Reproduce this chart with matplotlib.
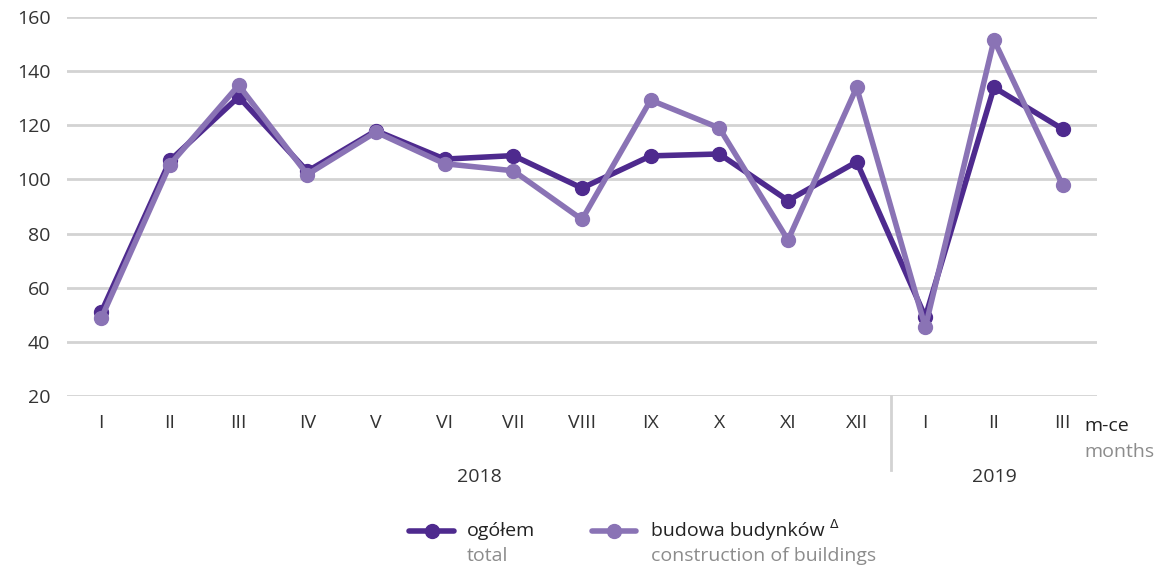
import matplotlib
matplotlib.use("Agg")
import matplotlib.pyplot as plt

months = ["I", "II", "III", "IV", "V", "VI", "VII", "VIII", "IX", "X", "XI", "XII", "I", "II", "III"]
years = ["2018", "2019"]
total = [51.0, 107.0, 130.5, 103.0, 118.0, 107.5, 108.8, 96.8, 108.7, 109.4, 92.2, 106.5, 49.2, 134.0, 118.6]
buildings = [48.8, 105.5, 134.8, 101.8, 117.5, 105.8, 103.2, 85.2, 129.3, 119.0, 77.6, 134.0, 45.4, 151.5, 97.8]
yticks = [20, 40, 60, 80, 100, 120, 140, 160]

plt.rcParams['font.family'] = ['Open Sans', 'DejaVu Sans']
FS = 14

c_total = '#4e2a8e'
c_build = '#8a73b5'
grid_c = '#d3d3d3'
txt_c = '#333333'
gray_c = '#8c8c8c'

fig = plt.figure(figsize=(11.63, 5.67), dpi=100)
ax = fig.add_axes([67/1163, 1-396/567, (1097-67)/1163, (396-17)/567])

x = list(range(len(months)))
for y in yticks:
    ax.axhline(y, color=grid_c, lw=2, zorder=0)

ax.plot(x, total, color=c_total, lw=4, marker='o', ms=10, zorder=3, solid_capstyle='round')
ax.plot(x, buildings, color=c_build, lw=4, marker='o', ms=10, zorder=4, solid_capstyle='round')

ax.set_xlim(-0.5, len(months)-0.5)
ax.set_ylim(20, 160)
ax.set_yticks(yticks)
ax.set_yticklabels([str(v) for v in yticks], fontsize=FS, color=txt_c)
ax.set_xticks(x)
ax.set_xticklabels(months, fontsize=FS, color=txt_c)
ax.tick_params(axis='both', length=0)
ax.tick_params(axis='x', pad=13)
ax.tick_params(axis='y', pad=12)
for s in ax.spines.values():
    s.set_visible(False)

# year separator
ax.plot([11.5, 11.5], [20, -7.5], color=grid_c, lw=2, clip_on=False)
ax.text(5.5, -9.8, years[0], ha='center', va='center', fontsize=FS, color=txt_c)
ax.text(13, -9.8, years[1], ha='center', va='center', fontsize=FS, color=txt_c)

# axis unit label
fig.text(1084/1163, 1-426/567, "m-ce", ha='left', va='center', fontsize=FS, color='#222222')
fig.text(1084/1163, 1-452/567, "months", ha='left', va='center', fontsize=FS, color=gray_c)

# legend
def leg(x0, x1, col, t1, t2, tx):
    yl = 1-531/567
    fig.add_artist(plt.Line2D([x0/1163, x1/1163], [yl, yl], color=col, lw=4, solid_capstyle='round', transform=fig.transFigure))
    fig.add_artist(plt.Line2D([(x0+x1)/2/1163], [yl], color=col, marker='o', ms=10, transform=fig.transFigure))
    t = fig.text(tx/1163, yl, t1, ha='left', va='center', fontsize=FS, color='#222222')
    fig.text(tx/1163, 1-556/567, t2, ha='left', va='center', fontsize=FS, color=gray_c)
    return t

leg(409, 454, c_total, "ogółem", "total", 467)
tb = leg(592, 636, c_build, "budowa budynków", "construction of buildings", 651)
fig.canvas.draw()
bb = tb.get_window_extent()
fig.text((bb.x1 + 5)/1163, 1-524/567, "Δ", ha='left', va='center', fontsize=9, color='#222222', family=['DejaVu Sans'])

fig.savefig("out.png", dpi=100)
